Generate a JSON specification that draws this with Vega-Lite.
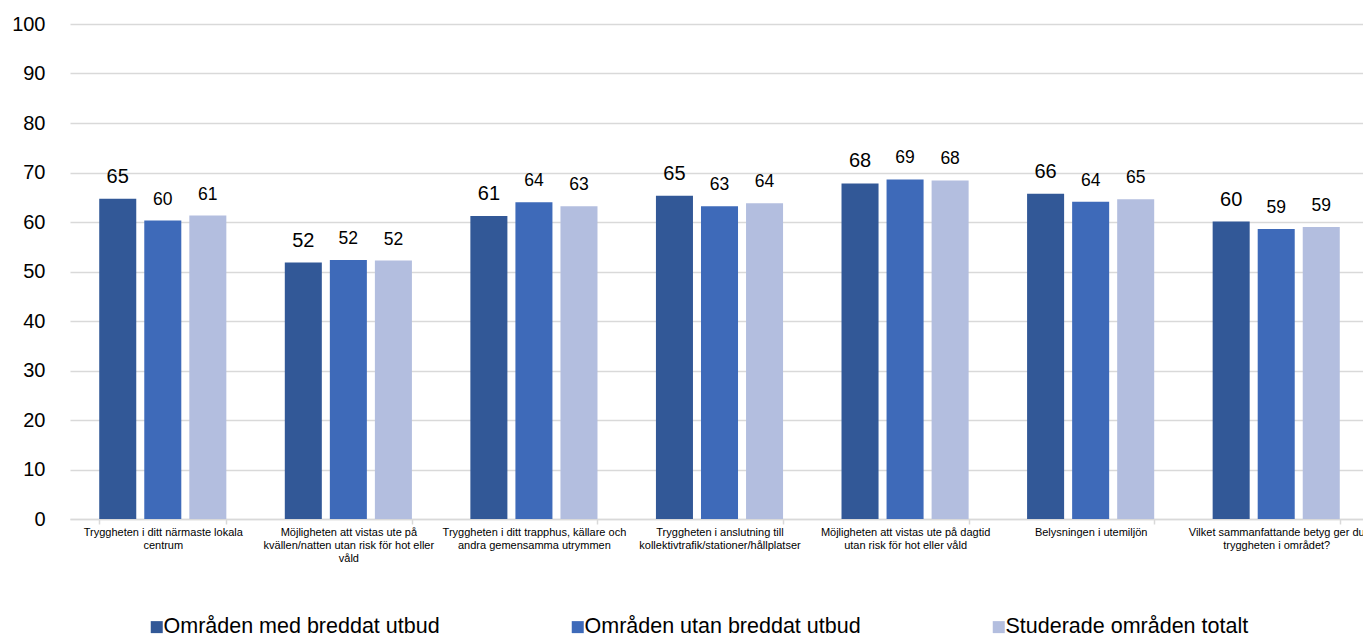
{
  "$schema": "https://vega.github.io/schema/vega-lite/v6.json",
  "width": 1293,
  "height": 495,
  "autosize": {"type": "none"},
  "padding": {"left": 70, "top": 24, "right": 0, "bottom": 116},
  "background": "#ffffff",
  "config": {
    "font": "Liberation Sans",
    "view": {"stroke": null},
    "axis": {"labelFont": "Liberation Sans", "labelColor": "#000000"},
    "legend": {"labelFont": "Liberation Sans"}
  },
  "data": {
    "values": [
      {"fraga": "Tryggheten i ditt närmaste lokala\ncentrum", "grupp": "Områden med breddat utbud", "index": 64.7},
      {"fraga": "Tryggheten i ditt närmaste lokala\ncentrum", "grupp": "Områden utan breddat utbud", "index": 60.3},
      {"fraga": "Tryggheten i ditt närmaste lokala\ncentrum", "grupp": "Studerade områden totalt", "index": 61.3},
      {"fraga": "Möjligheten att vistas ute på\nkvällen/natten utan risk för hot eller\nvåld", "grupp": "Områden med breddat utbud", "index": 51.8},
      {"fraga": "Möjligheten att vistas ute på\nkvällen/natten utan risk för hot eller\nvåld", "grupp": "Områden utan breddat utbud", "index": 52.3},
      {"fraga": "Möjligheten att vistas ute på\nkvällen/natten utan risk för hot eller\nvåld", "grupp": "Studerade områden totalt", "index": 52.2},
      {"fraga": "Tryggheten i ditt trapphus, källare och\nandra gemensamma utrymmen", "grupp": "Områden med breddat utbud", "index": 61.2},
      {"fraga": "Tryggheten i ditt trapphus, källare och\nandra gemensamma utrymmen", "grupp": "Områden utan breddat utbud", "index": 64.0},
      {"fraga": "Tryggheten i ditt trapphus, källare och\nandra gemensamma utrymmen", "grupp": "Studerade områden totalt", "index": 63.2},
      {"fraga": "Tryggheten i anslutning till\nkollektivtrafik/stationer/hållplatser", "grupp": "Områden med breddat utbud", "index": 65.3},
      {"fraga": "Tryggheten i anslutning till\nkollektivtrafik/stationer/hållplatser", "grupp": "Områden utan breddat utbud", "index": 63.2},
      {"fraga": "Tryggheten i anslutning till\nkollektivtrafik/stationer/hållplatser", "grupp": "Studerade områden totalt", "index": 63.8},
      {"fraga": "Möjligheten att vistas ute på dagtid\nutan risk för hot eller våld", "grupp": "Områden med breddat utbud", "index": 67.8},
      {"fraga": "Möjligheten att vistas ute på dagtid\nutan risk för hot eller våld", "grupp": "Områden utan breddat utbud", "index": 68.6},
      {"fraga": "Möjligheten att vistas ute på dagtid\nutan risk för hot eller våld", "grupp": "Studerade områden totalt", "index": 68.4},
      {"fraga": "Belysningen i utemiljön", "grupp": "Områden med breddat utbud", "index": 65.7},
      {"fraga": "Belysningen i utemiljön", "grupp": "Områden utan breddat utbud", "index": 64.1},
      {"fraga": "Belysningen i utemiljön", "grupp": "Studerade områden totalt", "index": 64.6},
      {"fraga": "Vilket sammanfattande betyg ger du\ntryggheten i området?", "grupp": "Områden med breddat utbud", "index": 60.1},
      {"fraga": "Vilket sammanfattande betyg ger du\ntryggheten i området?", "grupp": "Områden utan breddat utbud", "index": 58.6},
      {"fraga": "Vilket sammanfattande betyg ger du\ntryggheten i området?", "grupp": "Studerade områden totalt", "index": 59.0}
    ]
  },
  "encoding": {
    "x": {
      "field": "fraga",
      "type": "nominal",
      "sort": null,
      "title": null,
      "scale": {"range": [0, 1299], "paddingInner": 0.315, "paddingOuter": 0.1575},
      "axis": {
        "labelAngle": 0,
        "labelExpr": "split(datum.label, '\\n')",
        "labelFontSize": 11,
        "labelLineHeight": 13,
        "labelBaseline": "top",
        "labelPadding": 2,
        "labelLimit": 400,
        "labelColor": "#000000",
        "domainColor": "#d9d9d9",
        "domainWidth": 1.5,
        "tickColor": "#d9d9d9",
        "tickWidth": 1.5,
        "tickSize": 5,
        "tickBand": "extent",
        "grid": false
      }
    },
    "xOffset": {
      "field": "grupp",
      "type": "nominal",
      "sort": null,
      "scale": {"paddingInner": 0.178, "paddingOuter": 0}
    },
    "y": {
      "field": "index",
      "type": "quantitative",
      "title": null,
      "scale": {"domain": [0, 100], "nice": false},
      "axis": {
        "values": [0, 10, 20, 30, 40, 50, 60, 70, 80, 90, 100],
        "labelFontSize": 20,
        "labelPadding": 25,
        "labelColor": "#000000",
        "domain": false,
        "ticks": false,
        "gridColor": "#d9d9d9",
        "gridWidth": 1.5
      }
    }
  },
  "layer": [
    {
      "mark": {"type": "bar", "strokeWidth": 0},
      "encoding": {
        "color": {
          "field": "grupp",
          "type": "nominal",
          "sort": null,
          "title": null,
          "scale": {
            "domain": ["Områden med breddat utbud", "Områden utan breddat utbud", "Studerade områden totalt"],
            "range": ["#325897", "#3e6ab9", "#b3bedf"]
          },
          "legend": {
            "orient": "none",
            "legendX": 76,
            "legendY": 592,
            "direction": "horizontal",
            "columns": 3,
            "gridAlign": "all",
            "columnPadding": 127,
            "symbolType": "square",
            "symbolSize": 144,
            "symbolStrokeWidth": 0,
            "labelFontSize": 21.5,
            "labelColor": "#000000",
            "labelOffset": -4,
            "labelLimit": 400
          }
        }
      }
    },
    {
      "mark": {"type": "text", "baseline": "alphabetic", "dy": -16, "color": "#000000"},
      "encoding": {
        "text": {"field": "index", "type": "quantitative", "format": ".0f"},
        "size": {
          "condition": {"test": "datum.grupp === 'Områden med breddat utbud'", "value": 20},
          "value": 17.5
        }
      }
    }
  ]
}
